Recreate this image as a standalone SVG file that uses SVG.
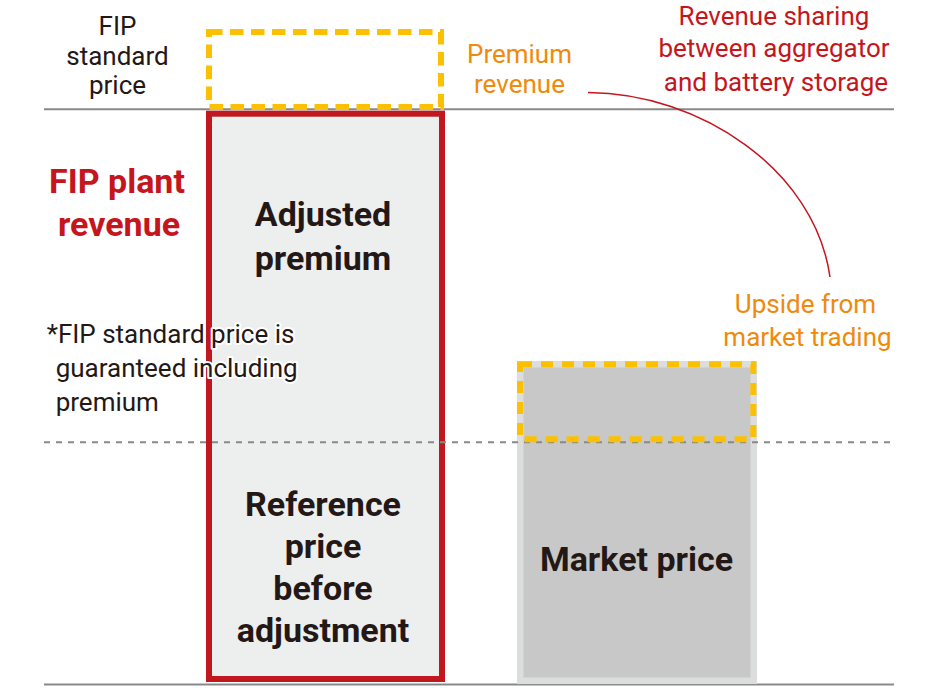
<svg xmlns="http://www.w3.org/2000/svg" width="948" height="688" viewBox="0 0 948 688">
<style>
.t{font-family:Roboto,"Liberation Sans",sans-serif;font-size:26px;text-anchor:middle}
.b{font-family:Roboto,"Liberation Sans",sans-serif;font-size:34px;font-weight:700;text-anchor:middle}
.dk{fill:#231815}
.rd{fill:#c5161d}
.or{fill:#ef8a0c}
.halo{paint-order:stroke;stroke:#ffffff;stroke-width:4;stroke-linejoin:round;text-anchor:start}
.yd{fill:none;stroke:#fbc000;stroke-width:6}
.axis{stroke:#898989;stroke-width:2;fill:none}
</style>
<rect width="948" height="688" fill="#ffffff"/>
<g id="axes">
<line class="axis" x1="44" y1="109.3" x2="894" y2="109.3"/>
<line class="axis" x1="44" y1="684.5" x2="894" y2="684.5" stroke-width="2.5"/>
</g>
<g id="fip-bar">
<rect x="209" y="113.7" width="233" height="565.3" fill="#edeeee" stroke="#c1171e" stroke-width="6"/>
<text class="b dk" x="323" y="226">Adjusted</text>
<text class="b dk" x="323" y="270">premium</text>
<text class="b dk" x="323" y="516">Reference</text>
<text class="b dk" x="323" y="558">price</text>
<text class="b dk" x="323" y="600">before</text>
<text class="b dk" x="323" y="642">adjustment</text>
</g>
<g id="premium-box">
<rect class="yd" x="209" y="32" width="232" height="75" stroke-width="5.5" stroke-dasharray="13.5 7.5"/>
</g>
<g id="market-bar">
<rect x="520.2" y="364.2" width="233.6" height="316.6" fill="#c8c8c8" stroke="#dcdddd" stroke-width="6.5"/>
<text class="b dk" x="636.5" y="571">Market price</text>
</g>
<g id="reference-line">
<line x1="44" y1="442.3" x2="894" y2="442.3" stroke="#898989" stroke-width="2" stroke-dasharray="6 6"/>
</g>
<g id="upside-box">
<rect class="yd" x="520" y="364.3" width="233.3" height="75" stroke-dasharray="12 9"/>
</g>
<g id="connectors">
<path d="M588,92.5 C700,93 815,170 830,277" fill="none" stroke="#c5161d" stroke-width="1.5"/>
</g>
<g id="label-fip-standard">
<text class="t dk" x="117.5" y="35">FIP</text>
<text class="t dk" x="117.5" y="64.5">standard</text>
<text class="t dk" x="117.5" y="94">price</text>
</g>
<g id="label-premium-revenue">
<text class="t or" x="519.5" y="63.3">Premium</text>
<text class="t or" x="519.5" y="93.3">revenue</text>
</g>
<g id="label-revenue-sharing">
<text class="t rd" x="774" y="25">Revenue sharing</text>
<text class="t rd" x="774" y="57.3">between aggregator</text>
<text class="t rd" x="776" y="90.5">and battery storage</text>
</g>
<g id="label-upside">
<text class="t or" x="805.5" y="313.3">Upside from</text>
<text class="t or" x="807.5" y="346">market trading</text>
</g>
<g id="label-fip-plant">
<text class="b rd" x="117" y="193.3">FIP plant</text>
<text class="b rd" x="119" y="236">revenue</text>
</g>
<g id="note">
<text class="t dk halo" x="46.7" y="343.3">*FIP standard price is</text>
<text class="t dk halo" x="55.7" y="377.3">guaranteed including</text>
<text class="t dk halo" x="55.7" y="411">premium</text>
</g>
</svg>
